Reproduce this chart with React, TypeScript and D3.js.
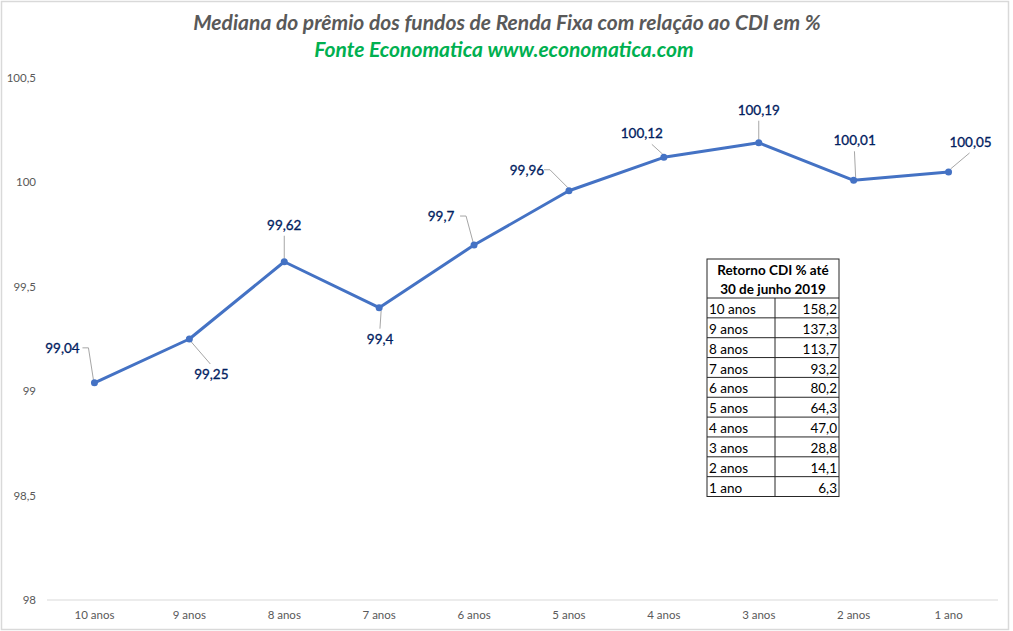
import * as d3 from "d3";
import { useEffect, useRef } from "react";

// ** Chart data **
const periods = ["10 anos", "9 anos", "8 anos", "7 anos", "6 anos", "5 anos", "4 anos", "3 anos", "2 anos", "1 ano"];
const premium = [99.04, 99.25, 99.62, 99.4, 99.7, 99.96, 100.12, 100.19, 100.01, 100.05];
const yTicks = [98, 98.5, 99, 99.5, 100, 100.5];

// ** Table data **
const tablePeriods = ["10 anos", "9 anos", "8 anos", "7 anos", "6 anos", "5 anos", "4 anos", "3 anos", "2 anos", "1 ano"];
const tableReturns = ["158,2", "137,3", "113,7", "93,2", "80,2", "64,3", "47,0", "28,8", "14,1", "6,3"];

// label placement (dx, dy of text center from point) + leader elbow
const labelPos: { dx: number; dy: number; elbow?: boolean }[] = [
    { dx: -32, dy: -35, elbow: true },
    { dx: 22, dy: 35 },
    { dx: 0, dy: -37 },
    { dx: 1, dy: 31 },
    { dx: -33, dy: -29, elbow: true },
    { dx: -42, dy: -21, elbow: true },
    { dx: -22, dy: -24 },
    { dx: 0, dy: -33 },
    { dx: 1, dy: -40 },
    { dx: 22, dy: -30 },
];

const fmt = (v: number) => String(v).replace(".", ",");

const App: React.FC = () => {
    const svgRef = useRef<SVGSVGElement | null>(null);

    useEffect(() => {
        const svg = d3.select(svgRef.current);
        svg.selectAll("*").remove();

        const width = 1013, height = 631;
        const left = 47, right = 996, top = 78, bottom = 600;
        const font = "Lato, 'Open Sans', sans-serif";

        // ** Border **
        svg.append("rect")
            .attr("x", 1.5).attr("y", 1.5)
            .attr("width", width - 6).attr("height", height - 3)
            .attr("fill", "#fff").attr("stroke", "#d9d9d9").attr("stroke-width", 1.5);

        // ** Title **
        svg.append("text")
            .attr("x", 507).attr("y", 30)
            .attr("text-anchor", "middle")
            .attr("font-family", font).attr("font-size", 21)
            .attr("font-weight", "bold").attr("font-style", "italic")
            .attr("fill", "#595959")
            .text("Mediana do prêmio dos fundos de Renda Fixa com relação ao CDI em %");
        svg.append("text")
            .attr("x", 504).attr("y", 57)
            .attr("text-anchor", "middle")
            .attr("font-family", font).attr("font-size", 21)
            .attr("font-weight", "bold").attr("font-style", "italic")
            .attr("fill", "#00B050")
            .text("Fonte Economatica www.economatica.com");

        // ** Scales **
        const x = d3.scaleBand().domain(periods).range([left, right]);
        const y = d3.scaleLinear().domain([98, 100.5]).range([bottom, top]);
        const cx = (p: string) => (x(p) as number) + x.bandwidth() / 2;

        // ** Axes **
        svg.append("line")
            .attr("x1", left).attr("x2", right + 2)
            .attr("y1", bottom).attr("y2", bottom)
            .attr("stroke", "#d9d9d9").attr("stroke-width", 1);

        svg.append("g").selectAll("text")
            .data(yTicks)
            .join("text")
            .attr("x", 36).attr("y", d => y(d) + 4)
            .attr("text-anchor", "end")
            .attr("font-family", font).attr("font-size", 11.5)
            .attr("fill", "#595959")
            .text(d => fmt(d));

        svg.append("g").selectAll("text")
            .data(periods)
            .join("text")
            .attr("x", d => cx(d)).attr("y", bottom + 19)
            .attr("text-anchor", "middle")
            .attr("font-family", font).attr("font-size", 11.5)
            .attr("fill", "#595959")
            .text(d => d);

        // ** Line **
        const line = d3.line<number>()
            .x((_, i) => cx(periods[i]))
            .y(d => y(d));
        svg.append("path")
            .datum(premium)
            .attr("fill", "none")
            .attr("stroke", "#4472C4")
            .attr("stroke-width", 3)
            .attr("stroke-linejoin", "round")
            .attr("d", line);

        // ** Leader lines **
        const leaders = svg.append("g");
        premium.forEach((v, i) => {
            const px = cx(periods[i]), py = y(v);
            const lp = labelPos[i];
            const tx = px + lp.dx, ty = py + lp.dy;
            let pts: [number, number][];
            if (lp.elbow) {
                const ex = tx + (i === 0 ? 26 : i === 4 ? 25 : 23);
                pts = [[ex - 6, ty], [ex, ty], [px - 1, py - 3]];
            } else {
                const sy = lp.dy < 0 ? ty + 11 : ty - 10;
                const sx = tx + (lp.dx > 10 ? -1 : lp.dx < -10 ? 10 : -lp.dx * 0.2);
                pts = [[sx, sy], [px + (lp.dx > 0 ? 2 : lp.dx < 0 ? -1 : 0), py + (lp.dy < 0 ? -3 : 3)]];
            }
            leaders.append("path")
                .attr("d", d3.line()(pts))
                .attr("fill", "none")
                .attr("stroke", "#a6a6a6")
                .attr("stroke-width", 1);
        });

        // ** Markers **
        svg.append("g").selectAll("circle")
            .data(premium)
            .join("circle")
            .attr("cx", (_, i) => cx(periods[i]))
            .attr("cy", d => y(d))
            .attr("r", 3.5)
            .attr("fill", "#4472C4");

        // ** Data labels **
        svg.append("g").selectAll("text")
            .data(premium)
            .join("text")
            .attr("x", (_, i) => cx(periods[i]) + labelPos[i].dx)
            .attr("y", (d, i) => y(d) + labelPos[i].dy + 5)
            .attr("text-anchor", "middle")
            .attr("font-family", font).attr("font-size", 13.5)
            .attr("fill", "#002060")
            .attr("stroke", "#002060").attr("stroke-width", 0.3)
            .text(d => fmt(d));

        // ** Table **
        const tx0 = 707, tx1 = 775, tx2 = 839, ty0 = 259, headerH = 39, rowH = 19.85;
        const tbl = svg.append("g").attr("font-family", font).attr("font-size", 13.5).attr("fill", "#000");
        tbl.append("rect")
            .attr("x", tx0).attr("y", ty0)
            .attr("width", tx2 - tx0).attr("height", headerH + rowH * tablePeriods.length)
            .attr("fill", "#fff").attr("stroke", "#262626").attr("stroke-width", 1);
        tbl.append("text").attr("x", (tx0 + tx2) / 2).attr("y", ty0 + 16)
            .attr("text-anchor", "middle").attr("font-weight", "bold")
            .text("Retorno CDI % até");
        tbl.append("text").attr("x", (tx0 + tx2) / 2).attr("y", ty0 + 35)
            .attr("text-anchor", "middle").attr("font-weight", "bold")
            .text("30 de junho 2019");
        tbl.append("line")
            .attr("x1", tx1).attr("x2", tx1)
            .attr("y1", ty0 + headerH).attr("y2", ty0 + headerH + rowH * tablePeriods.length)
            .attr("stroke", "#262626");
        tablePeriods.forEach((p, i) => {
            const ry = ty0 + headerH + rowH * i;
            tbl.append("line")
                .attr("x1", tx0).attr("x2", tx2)
                .attr("y1", ry).attr("y2", ry)
                .attr("stroke", "#262626");
            tbl.append("text").attr("x", tx0 + 2).attr("y", ry + 16).text(p);
            tbl.append("text").attr("x", tx2 - 2).attr("y", ry + 16)
                .attr("text-anchor", "end").text(tableReturns[i]);
        });
    }, []);

    return (
        <svg ref={svgRef} width={1013} height={631}
            style={{ position: "absolute", left: 0, top: 0, background: "#fff" }} />
    );
};

export default App;
